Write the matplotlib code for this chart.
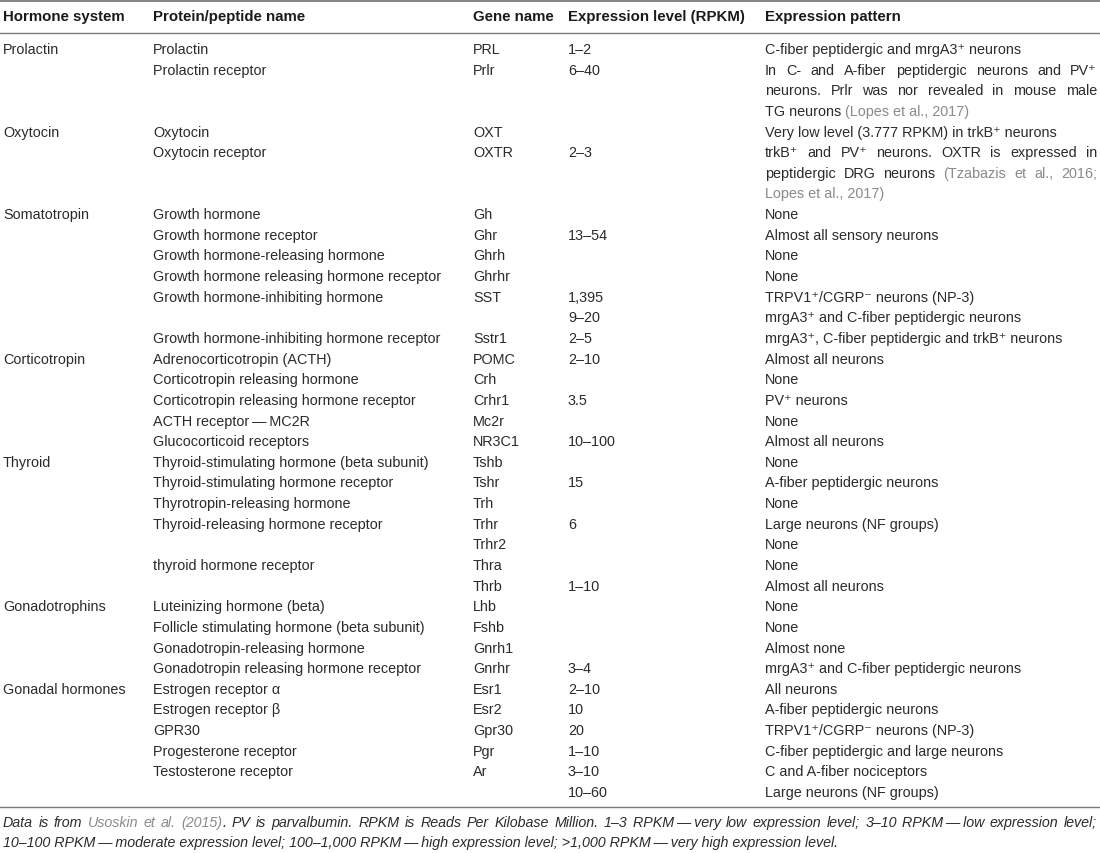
import matplotlib
matplotlib.use('Agg')
import matplotlib.pyplot as plt

plt.rcParams['font.family'] = ['Liberation Sans', 'DejaVu Sans']

# table content, one entry per printed line
headers = ['Hormone system', 'Protein/peptide name', 'Gene name',
           'Expression level (RPKM)', 'Expression pattern']

systems = ['Prolactin', '', '', '', 'Oxytocin', '', '', '', 'Somatotropin', '', '', '', '', '', '',
           'Corticotropin', '', '', '', '', 'Thyroid', '', '', '', '', '', '',
           'Gonadotrophins', '', '', '', 'Gonadal hormones', '', '', '', '', '']

proteins = ['Prolactin', 'Prolactin receptor', '', '', 'Oxytocin', 'Oxytocin receptor', '', '',
            'Growth hormone', 'Growth hormone receptor', 'Growth hormone-releasing hormone',
            'Growth hormone releasing hormone receptor', 'Growth hormone-inhibiting hormone', '',
            'Growth hormone-inhibiting hormone receptor',
            'Adrenocorticotropin (ACTH)', 'Corticotropin releasing hormone',
            'Corticotropin releasing hormone receptor', 'ACTH receptor\u2009\u2014\u2009MC2R', 'Glucocorticoid receptors',
            'Thyroid-stimulating hormone (beta subunit)', 'Thyroid-stimulating hormone receptor',
            'Thyrotropin-releasing hormone', 'Thyroid-releasing hormone receptor', '',
            'thyroid hormone receptor', '',
            'Luteinizing hormone (beta)', 'Follicle stimulating hormone (beta subunit)',
            'Gonadotropin-releasing hormone', 'Gonadotropin releasing hormone receptor',
            'Estrogen receptor \u03b1', 'Estrogen receptor \u03b2', 'GPR30', 'Progesterone receptor',
            'Testosterone receptor', '']

genes = ['PRL', 'Prlr', '', '', 'OXT', 'OXTR', '', '', 'Gh', 'Ghr', 'Ghrh', 'Ghrhr', 'SST', '', 'Sstr1',
         'POMC', 'Crh', 'Crhr1', 'Mc2r', 'NR3C1', 'Tshb', 'Tshr', 'Trh', 'Trhr', 'Trhr2', 'Thra', 'Thrb',
         'Lhb', 'Fshb', 'Gnrh1', 'Gnrhr', 'Esr1', 'Esr2', 'Gpr30', 'Pgr', 'Ar', '']

levels = ['1\u20132', '6\u201340', '', '', '', '2\u20133', '', '', '', '13\u201354', '', '', '1,395', '9\u201320',
          '2\u20135', '2\u201310', '', '3.5', '', '10\u2013100', '', '15', '', '6', '', '', '1\u201310',
          '', '', '', '3\u20134', '2\u201310', '10', '20', '1\u201310', '3\u201310', '10\u201360']

patterns = ['C-fiber peptidergic and mrgA3\u207a neurons',
            'In C- and A-fiber peptidergic neurons and PV\u207a',
            'neurons. Prlr was nor revealed in mouse male',
            'TG neurons {(Lopes et al., 2017)}',
            'Very low level (3.777 RPKM) in trkB\u207a neurons',
            'trkB\u207a and PV\u207a neurons. OXTR is expressed in',
            'peptidergic DRG neurons {(Tzabazis et al., 2016;}',
            '{Lopes et al., 2017)}',
            'None', 'Almost all sensory neurons', 'None', 'None',
            'TRPV1\u207a/CGRP\u207b neurons (NP-3)',
            'mrgA3\u207a and C-fiber peptidergic neurons',
            'mrgA3\u207a, C-fiber peptidergic and trkB\u207a neurons',
            'Almost all neurons', 'None', 'PV\u207a neurons', 'None', 'Almost all neurons',
            'None', 'A-fiber peptidergic neurons', 'None', 'Large neurons (NF groups)', 'None', 'None',
            'Almost all neurons', 'None', 'None', 'Almost none',
            'mrgA3\u207a and C-fiber peptidergic neurons', 'All neurons', 'A-fiber peptidergic neurons',
            'TRPV1\u207a/CGRP\u207b neurons (NP-3)', 'C-fiber peptidergic and large neurons',
            'C and A-fiber nociceptors', 'Large neurons (NF groups)']
justified = [1, 2, 5, 6]

footnote = ['Data is from {Usoskin et al. (2015)}. PV is parvalbumin. RPKM is Reads Per Kilobase Million. '
            '1\u20133 RPKM\u2009\u2014\u2009very low expression level; 3\u201310 RPKM\u2009\u2014\u2009low expression level;',
            '10\u2013100 RPKM\u2009\u2014\u2009moderate expression level; 100\u20131,000 RPKM\u2009\u2014\u2009high expression level; '
            '>1,000 RPKM\u2009\u2014\u2009very high expression level.']

W, H = 1100, 854
fig = plt.figure(figsize=(W / 100, H / 100), dpi=100)
ax = fig.add_axes([0, 0, 1, 1])
ax.set_xlim(0, W)
ax.set_ylim(H, 0)
ax.axis('off')
renderer = fig.canvas.get_renderer()

txt_col = '#2b2b2b'
cite_col = '#8a8a8a'
fs = 10.4
col_x = [3, 153, 473, 568, 765]
right_x = 1097
y0, dy = 50, 20.64


def words_of(line):
    # each word becomes a list of (piece, color); braces mark grey citation text
    out = []
    grey = False
    for w in line.split(' '):
        pieces = []
        buf = ''
        for ch in w:
            if ch in '{}':
                if buf:
                    pieces.append((buf, cite_col if grey else txt_col))
                buf = ''
                grey = ch == '{'
            else:
                buf += ch
        if buf:
            pieces.append((buf, cite_col if grey else txt_col))
        out.append(pieces)
    return out


def width_of(s, size, **kw):
    t = ax.text(0, 0, s, fontsize=size, **kw)
    wd = t.get_window_extent(renderer).width
    t.remove()
    return wd


def put(x, y, s, c, size, ha='left', **kw):
    ax.text(x, y, s, color=c, fontsize=size, va='center', ha=ha, **kw)


def draw_line(x, y, line, size=fs, just=False, x_end=None, **kw):
    ws = words_of(line)
    plain = [''.join(p for p, _ in w) for w in ws]
    if not just or len(ws) < 2:
        full = ' '.join(plain)
        if '{' not in line:
            put(x, y, full, txt_col, size, **kw)
            return
        # black head left-aligned, grey tail right-aligned to the full line end
        head = line.split('{')[0].rstrip()
        tail = line.split('{')[1].rstrip('}')
        if head:
            put(x, y, head, txt_col, size, **kw)
        put(x + width_of(full, size, **kw), y, tail, cite_col, size, ha='right', **kw)
        return
    widths = [width_of(p, size, **kw) for p in plain]
    gap = (x_end - x - sum(widths)) / (len(ws) - 1)
    cx = x
    for pieces, wd in zip(ws, widths):
        put(cx, y, pieces[0][0], pieces[0][1], size, **kw)
        if len(pieces) > 1:
            # remaining piece sits flush with the word's right end
            put(cx + wd, y, pieces[-1][0], pieces[-1][1], size, ha='right', **kw)
        cx += wd + gap


# rules
ax.plot([0, W], [2, 2], color='#7a7a7a', lw=1.3)
ax.plot([0, W], [34, 34], color='#7a7a7a', lw=1.0)
ax.plot([0, W], [808, 808], color='#7a7a7a', lw=1.0)

for cx, h in zip(col_x, headers):
    ax.text(cx, 17, h, fontsize=10.85, fontweight='bold', color='#1a1a1a', va='center', ha='left')

for i in range(len(patterns)):
    y = y0 + i * dy
    for cx, val in zip(col_x[:4], [systems[i], proteins[i], genes[i], levels[i]]):
        if val:
            put(cx, y, val, txt_col, fs)
    draw_line(col_x[4], y, patterns[i], just=i in justified, x_end=right_x)

draw_line(3, 823, footnote[0], size=10.3, just=True, x_end=right_x, style='italic')
draw_line(3, 843, footnote[1], size=10.3, style='italic')

fig.savefig('out.png', dpi=100)
